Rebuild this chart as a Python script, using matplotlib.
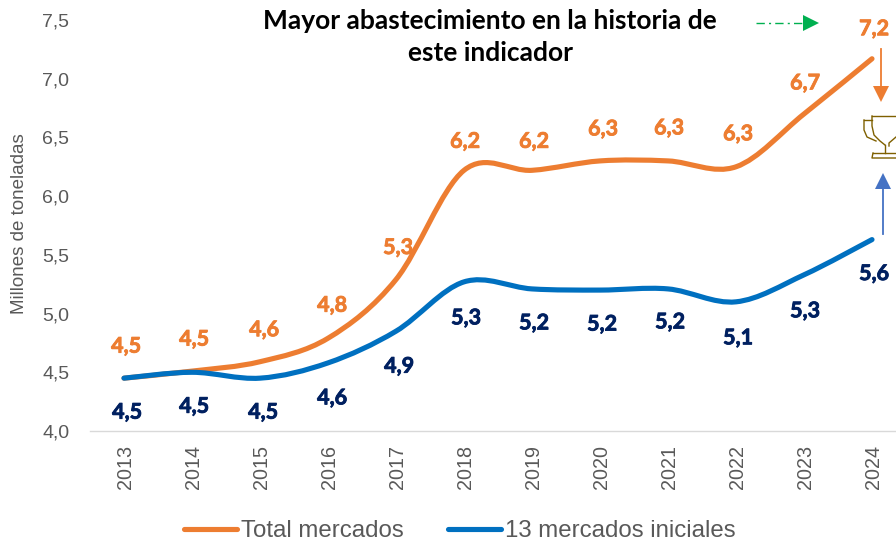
import numpy as np
import matplotlib
matplotlib.use("Agg")
import matplotlib.pyplot as plt
import matplotlib.patheffects as pe
from matplotlib.path import Path
from matplotlib.patches import PathPatch, Polygon
from matplotlib.lines import Line2D
from matplotlib.transforms import Affine2D, ScaledTranslation

years = [2013, 2014, 2015, 2016, 2017, 2018, 2019, 2020, 2021, 2022, 2023, 2024]
total_values = [4.45, 4.51, 4.59, 4.79, 5.29, 6.22, 6.22, 6.30, 6.30, 6.25, 6.70, 7.17]
initial_values = [4.45, 4.50, 4.45, 4.58, 4.85, 5.27, 5.21, 5.20, 5.21, 5.10, 5.33, 5.63]
total_labels = ["4,5", "4,5", "4,6", "4,8", "5,3", "6,2", "6,2", "6,3", "6,3", "6,3", "6,7", "7,2"]
initial_labels = ["4,5", "4,5", "4,5", "4,6", "4,9", "5,3", "5,2", "5,2", "5,2", "5,1", "5,3", "5,6"]
y_ticks = [4.0, 4.5, 5.0, 5.5, 6.0, 6.5, 7.0, 7.5]
series_names = ["Total mercados", "13 mercados iniciales"]
title = "Mayor abastecimiento en la historia de\neste indicador"
y_title = "Millones de toneladas"

ORANGE = "#ED7D31"
BLUE = "#0070C0"
NAVY = "#002060"
GREY = "#595959"
W, H = 896, 543

fig = plt.figure(figsize=(W / 100, H / 100), dpi=100)
ax = fig.add_axes([90 / W, 1 - 431 / H, (W - 90) / W, (431 - 20) / H])
ax.set_xlim(2012.5, 2013 + (W - 124) / 68)
ax.set_ylim(4.0, 7.5)


def smooth_path(xs, ys):
    """Excel-like smoothed line: a Bezier path through the data points."""
    xs, ys = np.asarray(xs, float), np.asarray(ys, float)
    verts = [(xs[0], ys[0])]
    codes = [Path.MOVETO]
    n = len(xs)
    for i in range(n - 1):
        x0, y0 = (xs[i - 1], ys[i - 1]) if i > 0 else (xs[i], ys[i])
        x3, y3 = (xs[i + 2], ys[i + 2]) if i + 2 < n else (xs[i + 1], ys[i + 1])
        c1 = (xs[i] + (xs[i + 1] - x0) / 6, ys[i] + (ys[i + 1] - y0) / 6)
        c2 = (xs[i + 1] - (x3 - xs[i]) / 6, ys[i + 1] - (y3 - ys[i]) / 6)
        verts += [c1, c2, (xs[i + 1], ys[i + 1])]
        codes += [Path.CURVE4] * 3
    return Path(verts, codes)


for vals, col, z in [(total_values, ORANGE, 2), (initial_values, BLUE, 3)]:
    ax.add_patch(PathPatch(smooth_path(years, vals), fc="none", ec=col, lw=3.7,
                           capstyle="round", joinstyle="round", zorder=z, clip_on=False))

for s in ["top", "right", "left"]:
    ax.spines[s].set_visible(False)
ax.spines["bottom"].set_color("#D9D9D9")
ax.spines["bottom"].set_linewidth(1.0)
ax.set_xticks(years)
ax.set_xticklabels(years, rotation=90, family="Liberation Sans", fontsize=14.2, color=GREY)
ax.set_yticks(y_ticks)
ax.set_yticklabels([f"{v:.1f}".replace(".", ",") for v in y_ticks],
                   family="Liberation Sans", fontsize=14, color=GREY)
ax.tick_params(axis="both", length=0)
ax.tick_params(axis="x", pad=10)
ax.tick_params(axis="y", pad=15)
shift = ScaledTranslation(1.5 / 100, 0, fig.dpi_scale_trans)
for t in ax.get_xticklabels():
    t.set_transform(t.get_transform() + shift)

fig.text(20 / W, 1 - 224 / H, y_title, rotation=90, ha="center", va="center",
         family="Liberation Sans", fontsize=13.5, color=GREY)

# data labels: offsets in pixels from each point
total_off = [(2, 32), (2, 32), (4, 32), (4, 33), (2, 32), (1, 29), (2, 29), (3, 32), (1, 33), (2, 33), (1, 31), (2, 30)]
init_off = [(3, -34), (2, -34), (3, -34), (4, -35), (3, -35), (2, -36), (2, -34), (2, -34), (2, -33), (2, -36), (1, -36), (2, -34)]
fx = [pe.withStroke(linewidth=0.5)]
for x, v, lab, off in zip(years, total_values, total_labels, total_off):
    ax.annotate(lab, (x, v), xytext=(off[0] * .72, off[1] * .72), textcoords="offset points",
                ha="center", va="center", family="Lato", weight="bold", fontsize=15.5,
                color=ORANGE, annotation_clip=False,
                path_effects=[pe.withStroke(linewidth=0.6, foreground=ORANGE)])
for x, v, lab, off in zip(years, initial_values, initial_labels, init_off):
    ax.annotate(lab, (x, v), xytext=(off[0] * .72, off[1] * .72), textcoords="offset points",
                ha="center", va="center", family="Lato", weight="bold", fontsize=15.5,
                color=NAVY, annotation_clip=False,
                path_effects=[pe.withStroke(linewidth=0.6, foreground=NAVY)])

fig.text(490 / W, 1 - 37 / H, title, ha="center", va="center", family="Lato", weight="bold",
         fontsize=19, color="black", linespacing=1.4)

# pixel-space overlay (y down)
px = Affine2D().scale(1, -1).translate(0, H) + Affine2D().scale(fig.dpi / 100)


def pline(xs, ys, **kw):
    fig.add_artist(Line2D(xs, ys, transform=px, **kw))


def ppoly(pts, **kw):
    fig.add_artist(Polygon(pts, closed=True, transform=px, **kw))


# green dash-dot arrow
pline([756, 804], [23, 23], color="#00B050", lw=1, dashes=(6, 3, 1.5, 3))
ppoly([(803, 15), (819, 23), (803, 31)], fc="#00B050", ec="none")
# orange arrow
pline([881, 881], [49, 88], color=ORANGE, lw=1.3)
ppoly([(873, 86), (889, 86), (881, 102)], fc=ORANGE, ec="none")
# blue arrow
pline([883, 883], [234, 188], color="#4472C4", lw=1.3)
ppoly([(875, 189), (891, 189), (883, 173)], fc="#4472C4", ec="none")

# trophy
G = "#7F6000"
tk = dict(color=G, lw=1.0, clip_on=False)
cup_x = [872, 872, 874, 880, 885, 885, 890, 896]
cup_y = [116, 126, 135, 141, 145, 151, 153, 153]
pline([872, 896], [116, 116], **tk)
pline(cup_x[:5], cup_y[:5], **tk)
pline([889, 889, 896], [146, 143, 137], **tk)
pline([885, 885], [145, 153], **tk)
pline([864, 872], [120, 120], **tk)
pline([864, 864, 867, 876], [120, 130, 137, 141], **tk)
pline([873, 896], [153, 153], **tk)
pline([873, 872, 896], [153, 158, 158], **tk)

# legend
pline([184, 237], [529, 529], color=ORANGE, lw=3.7, solid_capstyle="round")
pline([448, 501], [529, 529], color=BLUE, lw=3.7, solid_capstyle="round")
fig.text(241 / W, 1 - 531 / H, series_names[0], ha="left", va="center",
         family="Liberation Sans", fontsize=17.3, color=GREY)
fig.text(505 / W, 1 - 531 / H, series_names[1], ha="left", va="center",
         family="Liberation Sans", fontsize=17.3, color=GREY)

fig.savefig("out.png", dpi=100)
